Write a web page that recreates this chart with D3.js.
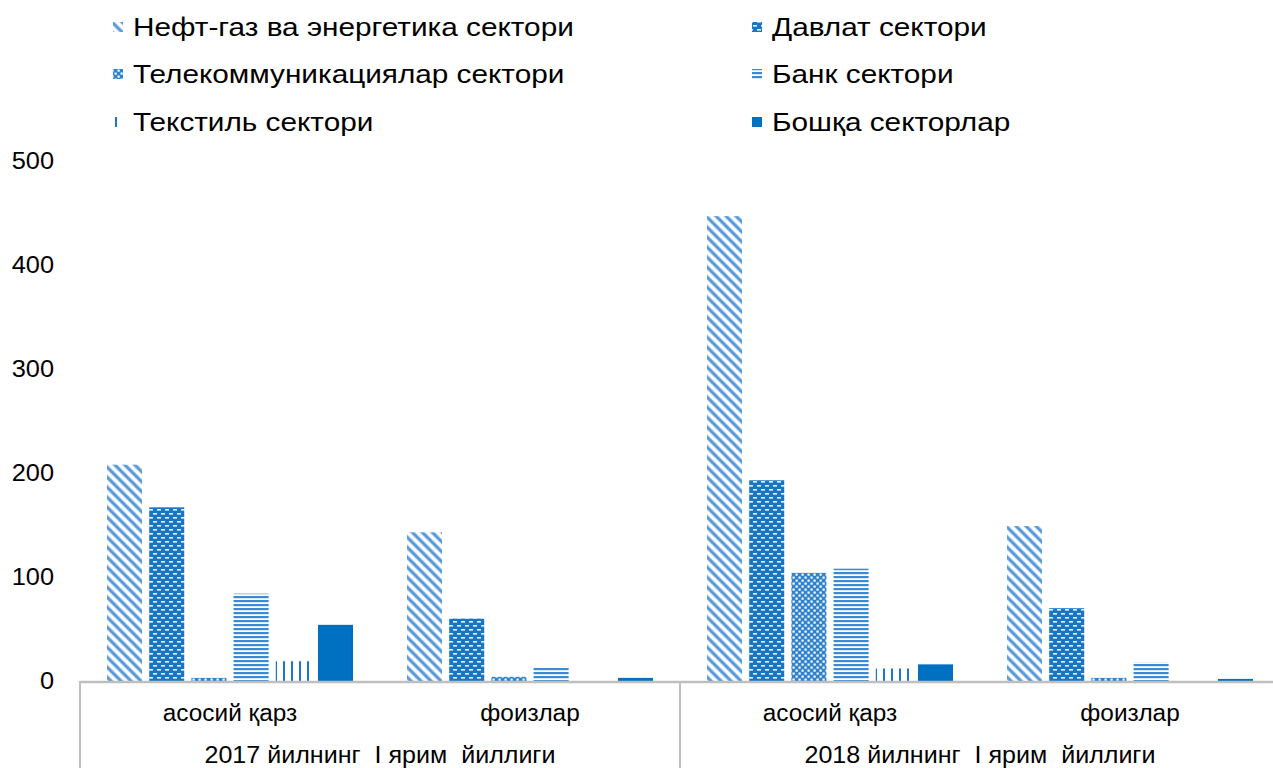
<!DOCTYPE html>
<html><head><meta charset="utf-8">
<script src="https://cdn.jsdelivr.net/npm/d3@7/dist/d3.min.js"></script>
<style>
html,body{margin:0;padding:0;background:#fff;}
svg{display:block;font-family:"Liberation Sans",Arial,sans-serif;}
</style></head>
<body><svg id="c" width="1273" height="768"></svg>
<script>
const series = ["Нефт-газ ва энергетика сектори","Давлат сектори","Телекоммуникациялар сектори","Банк сектори","Текстиль сектори","Бошқа секторлар"];
const periods = ["2017 йилнинг  I ярим  йиллиги","2018 йилнинг  I ярим  йиллиги"];
const subcats = ["асосий қарз","фоизлар"];
const neft    = [208,143,447,149];
const davlat  = [167,60,193,70];
const telecom = [3,4,104,3];
const bank    = [84,13,108,18];
const textile = [19,0,12,0];
const boshqa  = [54,3,16,2];
const yTicks = [0,100,200,300,400,500];

const values = [neft,davlat,telecom,bank,textile,boshqa];
const groups = [];
periods.forEach((p,pi)=>subcats.forEach((s,si)=>groups.push({key:pi+"|"+si,period:p,sub:s,idx:pi*2+si})));

const svg = d3.select("#c");
const defs = svg.append("defs");
function pat(id,w,h,build){const p=defs.append("pattern").attr("id",id).attr("patternUnits","userSpaceOnUse").attr("width",w).attr("height",h);build(p);}
pat("p0",10,10,p=>{
  p.append("rect").attr("width",10).attr("height",10).attr("fill","#fff");
  [-10,0,10].forEach(dx=>{
    p.append("line").attr("x1",dx-2).attr("y1",-2).attr("x2",dx+12).attr("y2",12).attr("stroke","#8dbbe6").attr("stroke-width",4);
    p.append("line").attr("x1",dx-2).attr("y1",-2).attr("x2",dx+12).attr("y2",12).attr("stroke","#5095d8").attr("stroke-width",1.6);
  });
});
pat("p1",8,8,p=>{
  p.append("rect").attr("width",8).attr("height",8).attr("fill","#1577c6");
  p.append("rect").attr("x",1).attr("y",1).attr("width",4).attr("height",1.6).attr("fill","#e8f1fb");
  p.append("rect").attr("x",5).attr("y",5).attr("width",4).attr("height",1.6).attr("fill","#e8f1fb");
  p.append("rect").attr("x",-3).attr("y",5).attr("width",4).attr("height",1.6).attr("fill","#e8f1fb");
});
pat("p2",6,6,p=>{
  p.append("rect").attr("width",6).attr("height",6).attr("fill","#2f82cc");
  p.append("rect").attr("x",0.5).attr("y",0.5).attr("width",2.2).attr("height",2.2).attr("fill","#fff");
  p.append("rect").attr("x",3.5).attr("y",3.5).attr("width",2.2).attr("height",2.2).attr("fill","#fff");
});
pat("p3",4,4,p=>{
  p.append("rect").attr("width",4).attr("height",4).attr("fill","#fff");
  p.append("rect").attr("y",0).attr("width",4).attr("height",2.2).attr("fill","#3b8ad4");
});
pat("p4",8,8,p=>{
  p.append("rect").attr("width",8).attr("height",8).attr("fill","#fff");
  p.append("rect").attr("x",3).attr("width",2).attr("height",8).attr("fill","#1a78c8");
});
const fills = ["url(#p0)","url(#p1)","url(#p2)","url(#p3)","url(#p4)","#0070c0"];

const x0 = d3.scaleBand().domain(groups.map(g=>g.key)).range([80,1280]).padding(0);
const x1 = d3.scaleBand().domain(series).range([0,x0.bandwidth()]).paddingInner(0.17).paddingOuter(0.64);
const y = d3.scaleLinear().domain([0,500]).range([681,161]);

const g = svg.append("g");
groups.forEach(gr=>{
  series.forEach((s,si)=>{
    const v = values[si][gr.idx];
    if(v<=0) return;
    g.append("rect").attr("x",x0(gr.key)+x1(s)).attr("width",x1.bandwidth())
      .attr("y",y(v)).attr("height",y(0)-y(v)).attr("fill",fills[si]);
  });
});

// y axis labels
const yAxis = d3.axisLeft(y).tickValues(yTicks).tickSize(0).tickPadding(0);
const ya = svg.append("g").attr("transform","translate(54,0)").call(yAxis);
ya.select(".domain").remove();
ya.selectAll("text").attr("font-size",23.5).attr("fill","#000").attr("font-family","Liberation Sans, Arial, sans-serif")
  .attr("transform","scale(1.08,1)");

// x axis line + separators
svg.append("line").attr("x1",80).attr("x2",1273).attr("y1",y(0)+1).attr("y2",y(0)+1).attr("stroke","#bfbfbf").attr("stroke-width",2.5);
[80,680,1280].forEach(xx=>svg.append("line").attr("x1",xx).attr("x2",xx).attr("y1",y(0)).attr("y2",768).attr("stroke","#bfbfbf").attr("stroke-width",2));

function stext(x,yy,sx,size,anchor,str){
  return svg.append("text").attr("transform",`translate(${x},${yy}) scale(${sx},1)`).attr("text-anchor",anchor)
    .attr("font-size",size).attr("fill","#000").style("white-space","pre").text(str);
}
groups.forEach(gr=>stext(x0(gr.key)+x0.bandwidth()/2,721,1.06,23,"middle",gr.sub));
periods.forEach((p,pi)=>stext(x0(pi+"|0")+x0.bandwidth(),763,1.09,23,"middle",p));

// legend
const legPos = [[113,27],[752,27],[113,74],[752,74],[113,122],[752,122]];
series.forEach((s,i)=>{
  const [lx,ly]=legPos[i];
  svg.append("rect").attr("x",lx).attr("y",ly-5).attr("width",10).attr("height",10).attr("fill",fills[i]);
  stext(lx+20,ly+9,1.19,25,"start",s);
});
</script></body></html>
